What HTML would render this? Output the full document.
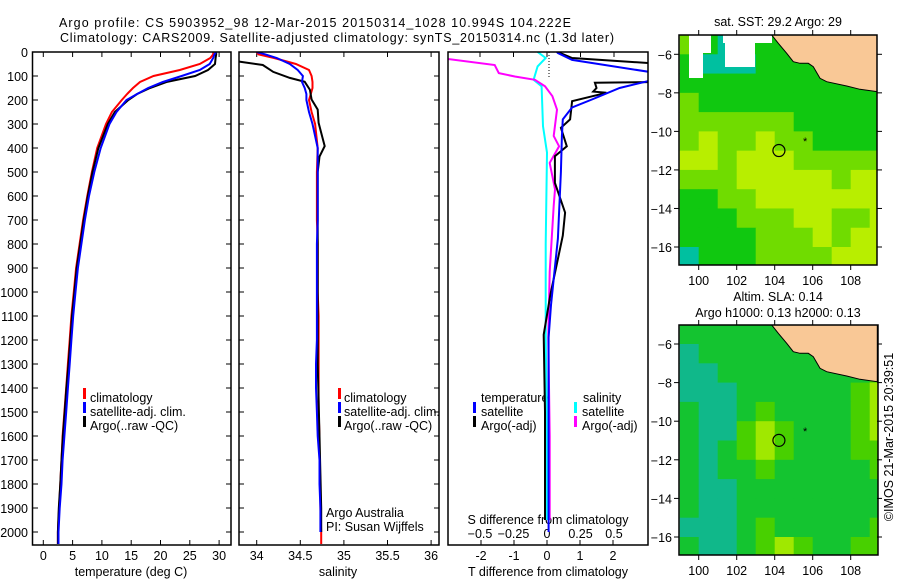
<!DOCTYPE html>
<html><head><meta charset="utf-8"><style>
html,body{margin:0;padding:0;background:#fff;}
svg{display:block;font-family:"Liberation Sans",sans-serif;}
text{font-size:12.5px;fill:#000;}
</style></head><body>
<svg id="c" width="900" height="580" viewBox="0 0 900 580"></svg>
<script>
// ---------- data ----------
const depths = [0,10,25,50,75,100,125,150,175,200,250,300,400,500,600,700,800,900,1000,1100,1200,1300,1400,1500,1600,1700,1800,1900,2000,2050];
const tempClim = [29.0,29.0,28.5,26.7,23.3,18.8,16.5,15.3,14.3,13.4,11.7,10.7,9.2,8.3,7.5,6.8,6.2,5.6,5.2,4.8,4.5,4.2,3.9,3.6,3.3,3.1,2.9,2.7,2.5,2.5];
const tempSat = [29.5,29.2,29.0,28.4,26.7,23.6,20.4,17.9,16.0,14.2,12.5,11.3,9.8,8.7,7.8,7.1,6.5,5.9,5.5,5.1,4.8,4.5,4.2,3.9,3.6,3.3,3.1,2.8,2.6,2.6];
const tempArgo = [29.5,29.5,29.4,29.3,28.1,25.9,21.0,18.2,16.0,14.5,12.2,11.0,9.4,8.4,7.6,6.9,6.3,5.7,5.3,4.9,4.6,4.3,3.95,3.65,3.35,3.1,2.9,2.65,2.5,2.5];
const salClim = [34.0,34.02,34.2,34.45,34.6,34.63,34.64,34.64,34.62,34.6,34.63,34.67,34.7,34.69,34.69,34.69,34.7,34.7,34.7,34.71,34.71,34.71,34.71,34.71,34.72,34.72,34.73,34.73,34.74,34.74];
const salSat = [34.0,34.1,34.23,34.38,34.47,34.53,34.52,34.55,34.57,34.57,34.6,34.64,34.7,34.7,34.7,34.7,34.69,34.69,34.69,34.69,34.69,34.68,34.68,34.69,34.7,34.72,34.72,34.73,34.73,34.73];
const salArgoDepths = [40,54,83,108,124,157,198,240,295,351,392,436,500,700,1000,1300,1600,1900,2000];
const salArgo = [33.8,34.07,34.19,34.38,34.55,34.61,34.63,34.7,34.71,34.75,34.78,34.72,34.7,34.7,34.7,34.7,34.72,34.74,34.74];
const tSatDiffDepths = [0,4,33,83,120,150,198,231,281,350,500,777,1054,1190,1500,2000];
const tSatDiff = [0.3,0.33,0.76,3.1,3.1,2.2,1.36,0.76,0.48,0.45,0.42,0.33,0.12,0.05,0.05,0.05];
const tArgoDiffDepths = [0,4,25,50,125,128,150,165,170,205,281,316,393,434,545,669,765,1013,1178,1500,1950];
const tArgoDiff = [0.4,0.4,0.76,3.5,3.5,1.45,1.5,1.4,1.8,0.76,0.7,0.42,0.6,0.24,0.24,0.55,0.48,0.1,-0.1,-0.06,-0.06];
const sArgoDiffDepths = [0,29,54,88,102,116,143,184,240,350,393,462,572,641,916,1190,1600,1950];
const sArgoDiff = [-0.8,-0.74,-0.39,-0.36,-0.24,-0.09,-0.015,0.04,0.075,0.05,0.09,0.02,0.06,0.05,0.02,0.01,0.02,0.02];
const sSatDiffDepths = [0,25,60,116,143,309,419,800,1190,1600,1950];
const sSatDiff = [-0.07,-0.01,-0.07,-0.1,-0.04,-0.03,0,-0.01,-0.01,0,0];
const depthTicks = [0,100,200,300,400,500,600,700,800,900,1000,1100,1200,1300,1400,1500,1600,1700,1800,1900,2000];
const tempTicks = [0,5,10,15,20,25,30];
const salTicks = [34,34.5,35,35.5,36];
const tDiffTicks = [-2,-1,0,1,2];
const sDiffTicks = [-0.5,-0.25,0,0.25,0.5];
const lonTicks = [100,102,104,106,108];
const latTicks = [-6,-8,-10,-12,-14,-16];
const sstGrid = [
[2,1,0,1,1,1,1,1,1,0,0],[1,0,0,0,1,1,1,1,1,1,0],[1,1,1,1,1,1,1,1,1,1,1],[2,1,1,1,1,1,1,1,1,1,1],
[2,2,2,2,2,2,1,1,1,1,1],[2,3,2,2,3,2,2,1,1,1,1],[3,3,2,3,3,3,2,2,2,2,2],[2,2,2,3,3,3,3,3,2,3,3],
[1,1,2,2,3,3,3,3,3,3,3],[1,1,1,2,2,2,3,3,2,2,3],[1,1,1,1,2,2,2,3,2,3,3],[0,1,1,1,2,2,2,2,3,3,3]];
const slaGrid = [
[1,1,1,1,1,1,1,1,1,1,1],[0,1,1,1,1,1,1,1,1,1,1],[0,0,1,1,1,1,1,1,1,1,2],[0,0,0,1,1,1,1,1,1,2,3],
[1,0,0,1,2,1,1,1,1,2,3],[1,0,0,2,3,2,1,1,1,2,3],[1,0,1,2,3,2,1,1,1,2,2],[1,0,1,1,2,1,1,1,1,1,2],
[1,0,0,1,1,1,1,1,1,1,1],[1,0,0,1,1,1,1,1,1,1,1],[0,0,0,1,2,1,1,1,1,1,2],[1,0,0,1,2,3,2,1,1,2,2]];
const argoLon = 104.222, argoLat = -10.994;

// ---------- helpers ----------
const NS = "http://www.w3.org/2000/svg";
const svg = document.getElementById('c');
function mk(tag, attrs, parent){ const e=document.createElementNS(NS,tag); for(const k in attrs) e.setAttribute(k,attrs[k]); (parent||svg).appendChild(e); return e; }
function txt(x,y,s,anchor,parent,size){ const t=mk('text',{x:x,y:y,'text-anchor':anchor||'start'},parent); if(size) t.style.fontSize=size+'px'; t.textContent=s; return t; }

const yD = d => 52 + d*0.24;
const xT = t => 43.3 + t*5.86;
const xS = s => 256.7 + (s-34)*87.2;
const xTd = t => 547 + t*33;
const xSd = s => 547 + s*134;

const defs = mk('defs',{});
[['cp1',32.5,52,198.5,493],['cp2',239,52,200,493],['cp3',448,52,200,493],['cpm1',679,35,198,230],['cpm2',679,325,199,230]].forEach(a=>{
  const cp=mk('clipPath',{id:a[0]},defs); mk('rect',{x:a[1],y:a[2],width:a[3],height:a[4]},cp);
});

function line(ds, vs, fx, color, clip, name){
  const pts = ds.map((d,i)=>fx(vs[i]).toFixed(1)+','+yD(d).toFixed(1)).join(' ');
  const p = mk('polyline',{points:pts,fill:'none',stroke:color,'stroke-width':2,'clip-path':'url(#'+clip+')'});
  
  
}
function frame(x,y,w,h,name){ const r=mk('rect',{x:x,y:y,width:w,height:h,fill:'none',stroke:'#000','stroke-width':1.5});   }
function legendBar(x,y,color){ mk('rect',{x:x,y:y-10,width:3,height:11,fill:color}); }

// ---------- titles ----------
const t1 = txt(59,27,'Argo profile: CS 5903952_98 12-Mar-2015 20150314_1028 10.994S 104.222E');
t1.setAttribute('textLength','512');  
const t2 = txt(60,42,'Climatology: CARS2009. Satellite-adjusted climatology: synTS_20150314.nc (1.3d later)');
t2.setAttribute('textLength','554');  

// ---------- panel 1: temperature ----------
const g1 = mk('g',{});  
depthTicks.forEach(d=>{ const y=yD(d); mk('line',{x1:32.5,y1:y,x2:38,y2:y,stroke:'#000'},g1); mk('line',{x1:231,y1:y,x2:226,y2:y,stroke:'#000'},g1); txt(28,y+5,String(d),'end',g1); });
tempTicks.forEach(t=>{ const x=xT(t); mk('line',{x1:x,y1:545,x2:x,y2:540,stroke:'#000'},g1); mk('line',{x1:x,y1:52,x2:x,y2:57,stroke:'#000'},g1); txt(x,560,String(t),'middle',g1); });
line(depths,tempClim,xT,'#ff0000','cp1','temperature-climatology-line');
line(depths,tempArgo,xT,'#000000','cp1','temperature-argo-line');
line(depths,tempSat,xT,'#0000ff','cp1','temperature-satellite-line');
frame(32.5,52,198.5,493,'temperature-plot-frame');
const xl1=txt(131,576,'temperature (deg C)','middle',g1);  
legendBar(83,398,'#ff0000'); txt(90,402,'climatology','start',g1);
legendBar(83,412,'#0000ff'); txt(90,416,'satellite-adj. clim.','start',g1);
legendBar(83,426,'#000000'); txt(90,430,'Argo(..raw -QC)','start',g1);

// ---------- panel 2: salinity ----------
const g2 = mk('g',{});  
depthTicks.forEach(d=>{ const y=yD(d); mk('line',{x1:239,y1:y,x2:244,y2:y,stroke:'#000'},g2); mk('line',{x1:439,y1:y,x2:434,y2:y,stroke:'#000'},g2); });
salTicks.forEach(s=>{ const x=xS(s); mk('line',{x1:x,y1:545,x2:x,y2:540,stroke:'#000'},g2); mk('line',{x1:x,y1:52,x2:x,y2:57,stroke:'#000'},g2); txt(x,560,String(s),'middle',g2); });
line(depths,salClim,xS,'#ff0000','cp2','salinity-climatology-line');
line(salArgoDepths,salArgo,xS,'#000000','cp2','salinity-argo-line');
line(depths.slice(0,29),salSat.slice(0,29),xS,'#0000ff','cp2','salinity-satellite-line');
frame(239,52,200,493,'salinity-plot-frame');
const xl2=txt(338,576,'salinity','middle',g2);  
legendBar(338,398,'#ff0000'); txt(344,402,'climatology','start',g2);
legendBar(338,412,'#0000ff'); txt(344,416,'satellite-adj. clim.','start',g2);
legendBar(338,426,'#000000'); txt(344,430,'Argo(..raw -QC)','start',g2);
txt(326,517,'Argo Australia','start',g2); txt(326,531,'PI: Susan Wijffels','start',g2);

// ---------- panel 3: differences ----------
const g3 = mk('g',{});  
tDiffTicks.forEach(t=>{ const x=xTd(t); mk('line',{x1:x,y1:545,x2:x,y2:540,stroke:'#000'},g3); txt(x,560,String(t),'middle',g3); });
sDiffTicks.forEach(s=>{ const x=xSd(s); mk('line',{x1:x,y1:52,x2:x,y2:57,stroke:'#000'},g3); txt(x,538,String(s).replace('-','\u2212'),'middle',g3); });
mk('line',{x1:549,y1:52,x2:549,y2:78,stroke:'#000','stroke-dasharray':'1,2'},g3);
line(sSatDiffDepths,sSatDiff,xSd,'#00ffff','cp3','s-diff-satellite-line');
line(sArgoDiffDepths,sArgoDiff,xSd,'#ff00ff','cp3','s-diff-argo-line');
line(tArgoDiffDepths,tArgoDiff,xTd,'#000000','cp3','t-diff-argo-line');
line(tSatDiffDepths,tSatDiff,xTd,'#0000ff','cp3','t-diff-satellite-line');
frame(448,52,200,493,'difference-plot-frame');
txt(481,402,'temperature','start',g3);
legendBar(473,412,'#0000ff'); txt(481,416,'satellite','start',g3);
legendBar(473,426,'#000000'); txt(481,430,'Argo(-adj)','start',g3);
txt(583,402,'salinity','start',g3);
legendBar(574,412,'#00ffff'); txt(582,416,'satellite','start',g3);
legendBar(574,426,'#ff00ff'); txt(582,430,'Argo(-adj)','start',g3);
const sl=txt(548,524,'S difference from climatology','middle',g3);  
const tl=txt(548,576,'T difference from climatology','middle',g3);  

// ---------- maps ----------
const landPx = [[395,105],[712,105],[712,275],[660,268],[620,258],[560,245],[540,235],[520,200],[505,190],[480,190],[460,185],[440,160],[415,130]];
function drawMap(top, ySc, grid, palette, clip, name, whites){
  const g = mk('g',{'clip-path':'url(#'+clip+')'});
  
  
  const xL = lon => 698.7 + (lon-100)*19;
  const yL = lat => ySc(lat);
  grid.forEach((row,r)=>row.forEach((v,c)=>{
    const x0=xL(99+c), x1=xL(100+c), y0=yL(-5-r), y1=yL(-6-r);
    const cell = mk('rect',{x:x0,y:y0,width:x1-x0+0.5,height:y1-y0+0.5,fill:palette[v]},g);
    
    
  }));
  (whites||[]).forEach(w=>mk('rect',{x:w[0],y:w[1]+top,width:w[2],height:w[3],fill:'#fff'},g));
  const pts = landPx.map(p=>(640+p[0]/3).toFixed(1)+','+(p[1]/3-35+top).toFixed(1)).join(' ');
  mk('polygon',{points:pts,fill:'#f9c896',stroke:'#000','stroke-width':1},g);
  mk('circle',{cx:xL(argoLon),cy:yL(argoLat),r:6,fill:'none',stroke:'#000','stroke-width':1.2},g);
  txt(xL(105.6),yL(-10.5)+4,'*','middle',g,11);
  return xL;
}
const ySst = lat => 54.3 + (-6-lat)*19.27;
const ySla = lat => 344 + (-6-lat)*19.3;
const xm1 = drawMap(35, ySst, sstGrid, ['#00c0a0','#10c810','#70dc00','#b8ee00','#e8f000'], 'cpm1', 'sst-map',
  [[689,0,22,18],[689,18,14,25],[723,0,49,8],[725,8,30,24],[808,0,16,10],[811,10,20,10]]);
frame(679,35,198,230,'sst-map-frame');
drawMap(325, ySla, slaGrid, ['#10b88a','#14c430','#48d000','#a0e800','#d8f000'], 'cpm2', 'sla-map', []);
frame(679,325,199,230,'sla-map-frame');
function mapAxes(top,bottom,ySc,labelY){
  lonTicks.forEach(l=>{ const x=xm1(l); mk('line',{x1:x,y1:top,x2:x,y2:top-5,stroke:'#000'}); mk('line',{x1:x,y1:bottom,x2:x,y2:bottom+5,stroke:'#000'}); txt(x,labelY,String(l),'middle'); });
  latTicks.forEach(l=>{ const y=ySc(l); mk('line',{x1:679,y1:y,x2:674,y2:y,stroke:'#000'}); mk('line',{x1:877,y1:y,x2:882,y2:y,stroke:'#000'}); txt(672,y+5,String(l).replace('-','\u2212'),'end'); });
}
mapAxes(35,265,ySst,285);
mapAxes(325,555,ySla,575);
const mt1=txt(778,26,'sat. SST: 29.2 Argo: 29','middle');  
const mt2=txt(778,301,'Altim. SLA: 0.14','middle');  
const mt3=txt(778,317,'Argo h1000: 0.13 h2000: 0.13','middle');  
const cr = txt(0,0,'\u00a9IMOS 21-Mar-2015 20:39:51','middle');
cr.setAttribute('transform','translate(893,437) rotate(-90)');
 
</script>
</body></html>
